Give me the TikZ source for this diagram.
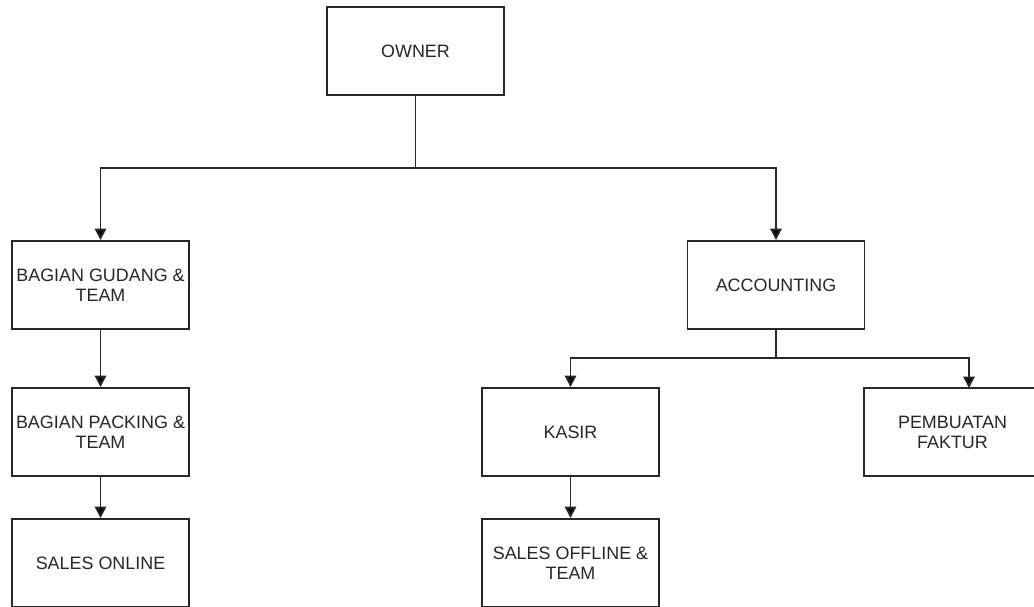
\documentclass[tikz,border=0pt]{standalone}
\usepackage{fontspec}
\setmainfont{Liberation Sans}
\usetikzlibrary{arrows.meta}
\tikzset{
  unit/.style={rectangle,draw=black!85,line width=1.1pt,minimum width=3.54cm,minimum height=1.76cm,
    align=center,inner sep=1pt,text=black!85,font=\fontsize{10.2}{11.3}\selectfont},
  link/.style={draw=black!85,line width=1.1pt,-{Triangle[length=6.5pt,width=6.5pt,fill=black]}},
  trunk/.style={draw=black!85,line width=1.1pt}
}
\begin{document}
\begin{tikzpicture}[x=0.02cm,y=-0.02cm]
\useasboundingbox (0,0) rectangle (1034,607);

\node[unit] (owner) at (415.5,51) {OWNER};

\node[unit] (gudang) at (100.5,285) {BAGIAN GUDANG \&\\TEAM};
\node[unit] (packing) at (100.5,432) {BAGIAN PACKING \&\\TEAM};
\node[unit] (online) at (100.5,563) {SALES ONLINE};

\node[unit] (accounting) at (776,285) {ACCOUNTING};
\node[unit] (kasir) at (570.5,432) {KASIR};
\node[unit] (offline) at (570.5,563) {SALES OFFLINE \&\\TEAM};
\node[unit] (faktur) at (952.5,432) {PEMBUATAN\\FAKTUR};

\coordinate (split1) at (415.5,168);
\coordinate (split2) at (776,358);
\coordinate (fakturin) at (969,388);

\draw [trunk] (owner) -- (split1);
\draw [link] (split1) -| (gudang);
\draw [link] (split1) -| (accounting);
\draw [link] (gudang) -- (packing);
\draw [link] (packing) -- (online);

\draw [trunk] (accounting) -- (split2);
\draw [link] (split2) -| (kasir);
\draw [link] (split2) -| (fakturin);
\draw [link] (kasir) -- (offline);
\end{tikzpicture}
\end{document}
